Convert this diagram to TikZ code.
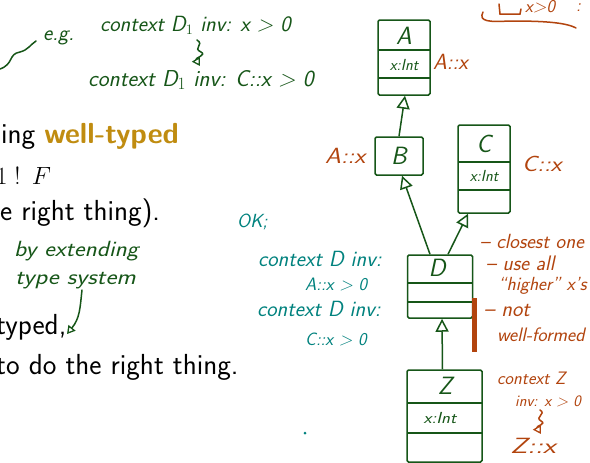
\documentclass[tikz,border=0pt]{standalone}
\usetikzlibrary{arrows.meta}
\definecolor{hgreen}{RGB}{22,86,24}
\definecolor{horange}{RGB}{178,68,14}
\definecolor{hteal}{RGB}{0,130,126}
\definecolor{hgold}{RGB}{192,140,16}
\tikzset{
  slide/.style={font=\sffamily\fontsize{29}{32}\selectfont, anchor=west, inner sep=0},
  hw/.style={font=\sffamily\itshape\fontsize{#1}{#1}\selectfont, anchor=west, inner sep=0},
  hw/.default=21,
  hwg/.style={hw=#1, text=hgreen}, hwg/.default=21,
  hwo/.style={hw=#1, text=horange}, hwo/.default=21,
  hwt/.style={hw=#1, text=hteal}, hwt/.default=21,
  umlbox/.style={draw=hgreen, line width=1.5pt, inner sep=0, rounded corners=1.5pt},
  umltxt/.style={font=\sffamily\itshape\fontsize{25}{27}\selectfont, text=hgreen, inner sep=0},
  umlattr/.style={font=\sffamily\itshape\fontsize{16}{18}\selectfont, text=hgreen, inner sep=0},
  inh/.style={draw=hgreen, line width=1.5pt, -{Triangle[open,length=13pt,width=13pt,line width=1.5pt]}},
  pen/.style={line width=1.5pt, line cap=round},
  squig/.style={pen, -{Triangle[open,length=8pt,width=9pt,line width=1.3pt]}}
}
\begin{document}
\begin{tikzpicture}[x=1pt,y=-1pt]
\useasboundingbox[fill=white] (0,0) rectangle (590,463);

% slide text
\node[slide] (l1) at (1,136) {ing \textbf{\textcolor{hgold}{well-typed}}};
\node[slide] (l2) at (-4,176) {$1\mkern5mu!\mkern8mu F$};
\node[slide] (l3) at (0,213) {e right thing).};
\node[slide] (l4) at (-4,327) {typed,};
\node[slide] (l5) at (-4,367) {to do the right thing.};

% green handwriting top-left
\coordinate (sq0) at (0,69);
\coordinate (sq1) at (36,41);
\draw[pen, hgreen] (sq0) .. controls (14,64) and (8,54) .. (20,52) .. controls (28,50) and (30,45) .. (sq1);
\node[hwg=22] (eg) at (43,38) {e.g.};
\node[hwg=22] (c1) at (100,25) {context D$_1$ inv: x > 0};
\node[hwg=23] (c2) at (88,80) {context D$_1$ inv: C::x > 0};
\coordinate (s1a) at (197,40);
\coordinate (s1b) at (200,66);
\draw[squig, hgreen] (s1a) .. controls (205,45) and (192,48) .. (201,52) .. controls (207,55) and (195,58) .. (s1b);

% by extending type system
\node[hwg=22, xscale=1.14] (be) at (14,251) {by extending};
\node[hwg=22, xscale=1.18] (ts) at (15,281) {type system};
\coordinate (ts1) at (82,290);
\coordinate (ts2) at (67,334);
\draw[squig, hgreen] (ts1) .. controls (80,308) and (80,318) .. (ts2);

% teal
\node[hwt=19] (ok) at (237,222) {OK;};
\node[hwt=22] (t1) at (258,259) {context D inv:};
\node[hwt=18] (t2) at (305,285) {A::x > 0};
\node[hwt=22] (t3) at (257,309) {context D inv:};
\node[hwt=18] (t4) at (305,339) {C::x > 0};
\fill[hteal] (305,433) circle (1.5);

% UML boxes
\node[umlbox, minimum width=52, minimum height=75] (A) at (404,57.5) {};
\draw[hgreen, line width=1.4pt] (378,50) -- (430,50) (378,78) -- (430,78);
\node[umltxt] (An) at (404,36) {A};
\node[umlattr] (Aa) at (404,65) {x:Int};

\node[umlbox, minimum width=48, minimum height=38] (B) at (399,156) {};
\node[umltxt] (Bn) at (399,156) {B};

\node[umlbox, minimum width=52, minimum height=88] (C) at (484,169) {};
\draw[hgreen, line width=1.4pt] (458,162) -- (510,162) (458,190) -- (510,190);
\node[umltxt] (Cn) at (484,144) {C};
\node[umlattr] (Ca) at (484,176) {x:Int};

\node[umlbox, minimum width=65, minimum height=63] (D) at (440,286.5) {};
\draw[hgreen, line width=1.4pt] (408,283) -- (472,283) (408,302) -- (472,302);
\node[umltxt] (Dn) at (437,268) {D};

\node[umlbox, minimum width=75, minimum height=92] (Z) at (444.5,416) {};
\draw[hgreen, line width=1.4pt] (407,403) -- (482,403) (407,433) -- (482,433);
\node[umltxt] (Zn) at (445,386) {Z};
\node[umlattr, xscale=1.15] (Za) at (440,418) {x:Int};

% inheritance
\draw[inh] (B.north) -- ([xshift=1]A.south);
\draw[inh] ([xshift=-10]D.north) -- ([xshift=3]B.south);
\draw[inh] ([xshift=8]D.north) -- ([xshift=-16]C.south);
\draw[inh] ([xshift=-2]Z.north) -- ([xshift=2]D.south);

% orange annotations
\node[hwo=22] (Ax1) at (433,62) {A::x};
\node[hwo=22, xscale=1.15] (Ax2) at (325,156) {A::x};
\node[hwo=22, xscale=1.15] (Cx) at (522,164) {C::x};
\node[hwo=20.5] (o1) at (480,241) {-- closest one};
\node[hwo=21] (o2) at (486,263) {-- use all};
\node[hwo=19] (o3) at (498,286) {``higher'' x's};
\node[hwo=22] (o4) at (484,311) {-- not};
\node[hwo=19.5] (o5) at (497,335) {well-formed};
\draw[horange, line width=5pt] (474,298) -- (474,352);
\node[hwo=18] (z1) at (497,378) {context Z};
\node[hwo=16] (z2) at (515,401) {inv: x > 0};
\coordinate (zs1) at (540,410);
\coordinate (zs2) at (541,434);
\draw[squig, horange] (zs1) .. controls (547,414) and (534,417) .. (541,421) .. controls (547,424) and (536,426) .. (zs2);
\node[hwo=22, xscale=1.35] (z3) at (510,446) {Z::x};

% top right fragment
\draw[pen, horange] (499,4) -- (500,14) -- (520,14) -- (521,9);
\node[hwo=18] (tr) at (525,7) {x>0};
\node[hwo=18] (trc) at (576,8) {:};
\draw[pen, horange] (483,12) .. controls (478,22) and (490,22) .. (510,21) .. controls (540,21) and (565,22) .. (576,28);
\end{tikzpicture}
\end{document}
